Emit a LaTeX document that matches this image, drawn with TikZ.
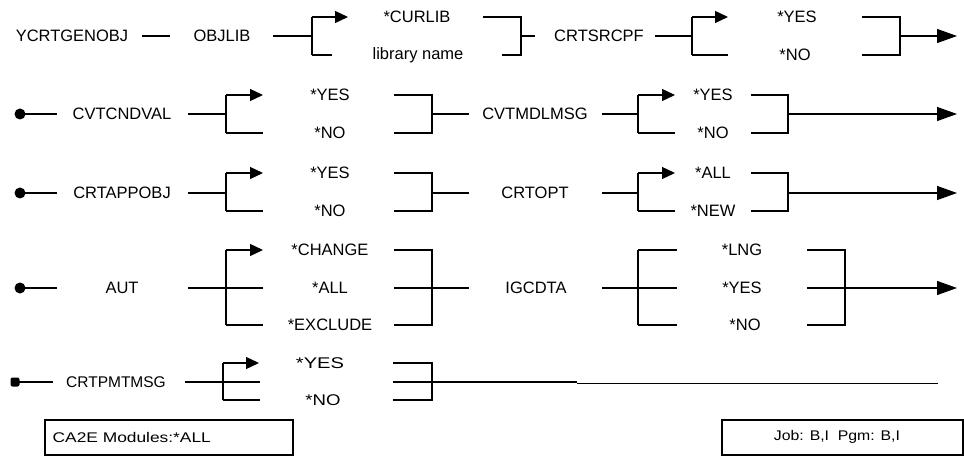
\documentclass[tikz,border=0pt]{standalone}
\usepackage{fontspec}
\setmainfont{Liberation Sans}
\usepackage{graphicx}
\usetikzlibrary{arrows.meta}
\begin{document}
\begin{tikzpicture}[x=1pt,y=-1pt,
  line width=1.3pt,
  txt/.style={font=\fontsize{16.5}{18}\selectfont, inner sep=0pt},
  small/.style={font=\fontsize{14}{16}\selectfont, inner sep=0pt},
  brarrow/.style={-{Triangle[length=13pt,width=12pt]}},
  endarrow/.style={-{Triangle[length=20pt,width=14pt]}},
  dotmark/.style={circle, fill=black, inner sep=0pt, minimum size=11pt},
  boxstyle/.style={draw, line width=1.5pt}]
\useasboundingbox (0,0) rectangle (964,457);

% ---------------- Row 1 ----------------
\node[txt] (ycrt) at (72,36) {YCRTGENOBJ};
\node[txt] (objlib) at (222,36) {OBJLIB};
\node[txt] (curlib) at (417,17) {*CURLIB};
\node[txt] (libname) at (418,55) {library name};
\node[txt] (crtsrcpf) at (599,36) {CRTSRCPF};
\node[txt] (yesA) at (797,17) {*YES};
\node[txt] (noA) at (795,55) {*NO};

\coordinate (a1) at (142,36); \coordinate (a2) at (170,36);
\draw (a1) -- (a2);
\coordinate (a3) at (273,36); \coordinate (a4) at (312,36);
\coordinate (a4t) at (312,17); \coordinate (a4b) at (312,55);
\coordinate (a5) at (348,17); \coordinate (a6) at (332,55);
\draw (a3) -- (a4);
\draw (a4b) -- (a4t);
\draw[brarrow] (a4t) -- (a5);
\draw (a4b) -- (a6);
\coordinate (b1) at (483,17); \coordinate (b2) at (521,17);
\coordinate (b3) at (521,55); \coordinate (b4) at (502,55);
\coordinate (b5) at (521,36); \coordinate (b6) at (535,36);
\draw (b1) -- (b2) -- (b3) -- (b4);
\draw (b5) -- (b6);
\coordinate (c1) at (655,36); \coordinate (c2) at (692,36);
\coordinate (c2t) at (692,17); \coordinate (c2b) at (692,55);
\coordinate (c3) at (728,17); \coordinate (c4) at (728,55);
\draw (c1) -- (c2);
\draw (c2b) -- (c2t);
\draw[brarrow] (c2t) -- (c3);
\draw (c2b) -- (c4);
\coordinate (d1) at (862,17); \coordinate (d2) at (900,17);
\coordinate (d3) at (900,55); \coordinate (d4) at (862,55);
\coordinate (d5) at (900,36); \coordinate (d6) at (957,36);
\draw (d1) -- (d2) -- (d3) -- (d4);
\draw[endarrow] (d5) -- (d6);

% ---------------- Row 2 ----------------
\node[dotmark] (dot2) at (20,114) {};
\node[txt] (cvtcnd) at (122,114) {CVTCNDVAL};
\node[txt] (yesB) at (330,95) {*YES};
\node[txt] (noB) at (330,133) {*NO};
\node[txt] (cvtmdl) at (535,114) {CVTMDLMSG};
\node[txt] (yesC) at (713,95) {*YES};
\node[txt] (noC) at (713,133) {*NO};

\coordinate (e1) at (57,114);
\draw (dot2.center) -- (e1);
\coordinate (e2) at (188,114); \coordinate (e3) at (226,114);
\coordinate (e3t) at (226,95); \coordinate (e3b) at (226,133);
\coordinate (e4) at (263,95); \coordinate (e5) at (263,133);
\draw (e2) -- (e3);
\draw (e3b) -- (e3t);
\draw[brarrow] (e3t) -- (e4);
\draw (e3b) -- (e5);
\coordinate (f1) at (394,95); \coordinate (f2) at (432,95);
\coordinate (f3) at (432,133); \coordinate (f4) at (394,133);
\coordinate (f5) at (432,114); \coordinate (f6) at (469,114);
\draw (f1) -- (f2) -- (f3) -- (f4);
\draw (f5) -- (f6);
\coordinate (g1) at (602,114); \coordinate (g2) at (638,114);
\coordinate (g2t) at (638,95); \coordinate (g2b) at (638,133);
\coordinate (g3) at (675,95); \coordinate (g4) at (675,133);
\draw (g1) -- (g2);
\draw (g2b) -- (g2t);
\draw[brarrow] (g2t) -- (g3);
\draw (g2b) -- (g4);
\coordinate (h1) at (751,95); \coordinate (h2) at (788,95);
\coordinate (h3) at (788,133); \coordinate (h4) at (751,133);
\coordinate (h5) at (788,114); \coordinate (h6) at (957,114);
\draw (h1) -- (h2) -- (h3) -- (h4);
\draw[endarrow] (h5) -- (h6);

% ---------------- Row 3 ----------------
\node[dotmark] (dot3) at (20,193) {};
\node[txt] (crtapp) at (122,193) {CRTAPPOBJ};
\node[txt] (yesD) at (330,173) {*YES};
\node[txt] (noD) at (330,211) {*NO};
\node[txt] (crtopt) at (535,193) {CRTOPT};
\node[txt] (allE) at (713,173) {*ALL};
\node[txt] (newE) at (713,211) {*NEW};

\coordinate (i1) at (57,193);
\draw (dot3.center) -- (i1);
\coordinate (i2) at (188,193); \coordinate (i3) at (226,193);
\coordinate (i3t) at (226,173); \coordinate (i3b) at (226,211);
\coordinate (i4) at (263,173); \coordinate (i5) at (263,211);
\draw (i2) -- (i3);
\draw (i3b) -- (i3t);
\draw[brarrow] (i3t) -- (i4);
\draw (i3b) -- (i5);
\coordinate (j1) at (394,173); \coordinate (j2) at (432,173);
\coordinate (j3) at (432,211); \coordinate (j4) at (394,211);
\coordinate (j5) at (432,193); \coordinate (j6) at (469,193);
\draw (j1) -- (j2) -- (j3) -- (j4);
\draw (j5) -- (j6);
\coordinate (k1) at (602,193); \coordinate (k2) at (638,193);
\coordinate (k2t) at (638,173); \coordinate (k2b) at (638,211);
\coordinate (k3) at (675,173); \coordinate (k4) at (675,211);
\draw (k1) -- (k2);
\draw (k2b) -- (k2t);
\draw[brarrow] (k2t) -- (k3);
\draw (k2b) -- (k4);
\coordinate (l1) at (751,173); \coordinate (l2) at (788,173);
\coordinate (l3) at (788,211); \coordinate (l4) at (751,211);
\coordinate (l5) at (788,193); \coordinate (l6) at (957,193);
\draw (l1) -- (l2) -- (l3) -- (l4);
\draw[endarrow] (l5) -- (l6);

% ---------------- Row 4 ----------------
\node[dotmark] (dot4) at (20,288) {};
\node[txt] (aut) at (122,288) {AUT};
\node[txt] (chg) at (330,250) {*CHANGE};
\node[txt] (allF) at (330,288) {*ALL};
\node[txt] (excl) at (330,325) {*EXCLUDE};
\node[txt] (igc) at (536,288) {IGCDTA};
\node[txt] (lng) at (742,250) {*LNG};
\node[txt] (yesG) at (742,288) {*YES};
\node[txt] (noG) at (745,325) {*NO};

\coordinate (m1) at (57,288);
\draw (dot4.center) -- (m1);
\coordinate (m2) at (188,288); \coordinate (m3) at (263,288);
\coordinate (m4t) at (226,250); \coordinate (m4b) at (226,325);
\coordinate (m5) at (263,250); \coordinate (m6) at (263,325);
\draw (m2) -- (m3);
\draw (m4b) -- (m4t);
\draw[brarrow] (m4t) -- (m5);
\draw (m4b) -- (m6);
\coordinate (n1) at (394,250); \coordinate (n2) at (432,250);
\coordinate (n3) at (432,325); \coordinate (n4) at (394,325);
\coordinate (n5) at (394,288); \coordinate (n6) at (469,288);
\draw (n1) -- (n2) -- (n3) -- (n4);
\draw (n5) -- (n6);
\coordinate (o1) at (602,288); \coordinate (o2) at (677,288);
\coordinate (o3t) at (638,250); \coordinate (o3b) at (638,325);
\coordinate (o4) at (677,250); \coordinate (o5) at (677,325);
\draw (o1) -- (o2);
\draw (o3b) -- (o3t);
\draw (o3t) -- (o4);
\draw (o3b) -- (o5);
\coordinate (p1) at (807,250); \coordinate (p2) at (845,250);
\coordinate (p3) at (845,325); \coordinate (p4) at (807,325);
\coordinate (p5) at (807,288); \coordinate (p6) at (957,288);
\draw (p1) -- (p2) -- (p3) -- (p4);
\draw[endarrow] (p5) -- (p6);

% ---------------- Row 5 ----------------
\node[dotmark, rectangle, rounded corners=2pt, minimum size=9pt] (dot5) at (15,382) {};
\node[txt, font=\fontsize{15.5}{17}\selectfont] (crtpmt) at (116,382) {CRTPMTMSG};
\node[txt, font=\fontsize{15.5}{17}\selectfont] (yesH) at (320,363) {\scalebox{1.3}[1]{*YES}};
\node[txt, font=\fontsize{15.5}{17}\selectfont] (noH) at (323,400) {\scalebox{1.2}[1]{*NO}};

\coordinate (q1) at (53,382);
\draw (dot5.center) -- (q1);
\coordinate (q2) at (185,382); \coordinate (q3) at (260,382);
\coordinate (q4t) at (223,363); \coordinate (q4b) at (223,400);
\coordinate (q5) at (259,363); \coordinate (q6) at (260,400);
\draw (q2) -- (q3);
\draw (q4b) -- (q4t);
\draw[brarrow] (q4t) -- (q5);
\draw (q4b) -- (q6);
\coordinate (r1) at (393,363); \coordinate (r2) at (432,363);
\coordinate (r3) at (432,400); \coordinate (r4) at (393,400);
\coordinate (r5) at (393,382); \coordinate (r6) at (577,382);
\coordinate (r7) at (577,383.5); \coordinate (r8) at (938,383.5);
\draw (r1) -- (r2) -- (r3) -- (r4);
\draw (r5) -- (r6);
\draw (r7) -- (r8);

% ---------------- Footer boxes ----------------
\draw[boxstyle] (45,420) rectangle (293,455);
\node[small, anchor=west] (modtxt) at (52,437) {\scalebox{1.24}[1]{CA2E Modules:*ALL}};
\draw[boxstyle] (722,420) rectangle (963,455);
\node[small] (jobtxt) at (837,437) {\scalebox{1.13}[1]{Job: B,I\ \ Pgm: B,I}};
\end{tikzpicture}
\end{document}
